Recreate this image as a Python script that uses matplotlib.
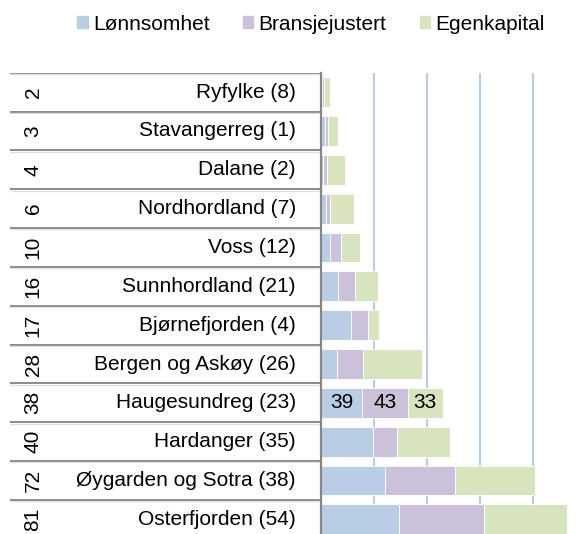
import matplotlib.pyplot as plt
from matplotlib.patches import Patch

plt.rcParams['font.family'] = ['Liberation Sans', 'DejaVu Sans']

# data (top row first)
ranks  = ['2', '3', '4', '6', '10', '16', '17', '28', '38', '40', '72', '81']
names  = ['Ryfylke (8)', 'Stavangerreg (1)', 'Dalane (2)', 'Nordhordland (7)',
          'Voss (12)', 'Sunnhordland (21)', 'Bjørnefjorden (4)', 'Bergen og Askøy (26)',
          'Haugesundreg (23)', 'Hardanger (35)', 'Øygarden og Sotra (38)', 'Osterfjorden (54)']
lonnsomhet     = [1, 4, 2.5, 5, 8.5, 16, 29, 15, 39, 49, 61, 74]
bransjejustert = [2, 3, 3, 4, 11, 16, 16, 25, 43, 23, 66, 80]
egenkapital    = [6, 9, 17, 22, 18, 22, 10, 55, 33, 50, 75, 78]
labelled_row   = 8   # Haugesundreg shows its values

series = ['Lønnsomhet', 'Bransjejustert', 'Egenkapital']
colors = ['#B9CDE5', '#CCC1DA', '#D7E4BD']

W, H = 576, 534
top = 72.7        # top border of the table / plot, px from top
bot = -4.8        # last row runs past the bottom edge
fs = 15

fig = plt.figure(figsize=(W / 100, H / 100), dpi=100)
ax_h = (H - top - bot) / H

# bar area
ax = fig.add_axes([320.7 / W, bot / H, (W - 320.7) / W, ax_h])
n = len(names)
y = list(range(n))
left = [0] * n
for vals, c in zip([lonnsomhet, bransjejustert, egenkapital], colors):
    bars = ax.barh(y, vals, left=left, height=0.77, color=c, edgecolor='white', linewidth=0.6)
    b = bars[labelled_row]
    ax.text(b.get_x() + b.get_width() / 2, labelled_row, '%d' % vals[labelled_row],
            ha='center', va='center', fontsize=fs, color='black')
    left = [l + v for l, v in zip(left, vals)]

ax.set_xlim(0, 240.6)
ax.set_ylim(n - 0.5, -0.5)
ax.set_xticks([50, 100, 150, 200])
ax.set_yticks([])
ax.tick_params(axis='x', length=0, labelbottom=False)
ax.grid(axis='x', color='#B9CDE5', linewidth=1.5)
ax.set_axisbelow(True)
for s in ['top', 'right', 'bottom']:
    ax.spines[s].set_visible(False)
ax.spines['left'].set_color('#868686')
ax.spines['left'].set_linewidth(1.6)

# table on the left
tab = fig.add_axes([10 / W, bot / H, 310 / W, ax_h])
tab.set_xlim(0, 310)
tab.set_ylim(n - 0.5, -0.5)
tab.axis('off')
for i in range(n):
    tab.plot([0, 310], [i - 0.5, i - 0.5], color='#8a8a8a', lw=1.4, solid_capstyle='butt')
    tab.plot([0, 310], [i - 0.465, i - 0.465], color='#dedede', lw=0.9, solid_capstyle='butt')
    tab.text(23, i, ranks[i], rotation=90, ha='center', va='center', fontsize=fs)
    tab.text(286, i, names[i], ha='right', va='center', fontsize=fs)

handles = [Patch(color=c) for c in colors]
fig.legend(handles, series, loc='center', bbox_to_anchor=(311 / W, 1 - 24 / H),
           ncol=3, frameon=False, fontsize=fs, handlelength=0.5, handleheight=0.5,
           handletextpad=0.25, columnspacing=1.6)

fig.savefig('out.png', dpi=100)
